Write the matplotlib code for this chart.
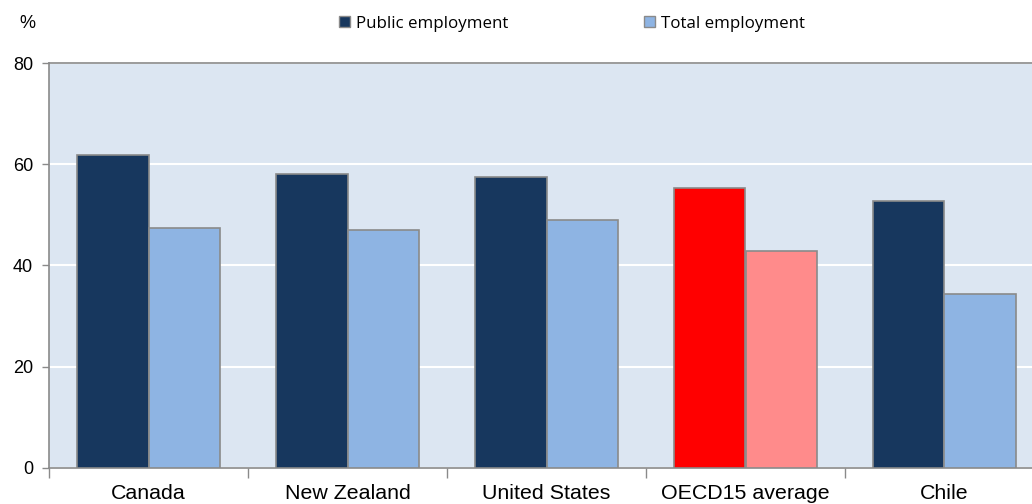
import matplotlib
matplotlib.use("Agg")
import matplotlib.pyplot as plt
import numpy as np
from matplotlib.patches import Patch

countries = ["Canada", "New Zealand", "United States", "OECD15 average", "Chile"]
public_employment = [61.8, 58.0, 57.4, 55.3, 52.7]
total_employment = [47.4, 46.9, 48.9, 42.8, 34.3]
series_names = ["Public employment", "Total employment"]
y_ticks = [0, 20, 40, 60, 80]
highlight = "OECD15 average"

dark_blue = "#17375E"
light_blue = "#8EB4E3"
red = "#FF0000"
pink = "#FF8B8B"
edge = "#8A8A8A"

fig = plt.figure(figsize=(10.32, 5.04), dpi=100)
ax = fig.add_axes([49 / 1032, 36.3 / 504, (1044 - 49) / 1032, (467.7 - 63) / 504])
ax.set_facecolor("#DCE6F2")

x = np.arange(len(countries))
w = 0.36
pub_colors = [red if c == highlight else dark_blue for c in countries]
tot_colors = [pink if c == highlight else light_blue for c in countries]
ax.bar(x - w / 2, public_employment, width=w, color=pub_colors,
       edgecolor=edge, linewidth=1.2, zorder=3)
ax.bar(x + w / 2, total_employment, width=w, color=tot_colors,
       edgecolor=edge, linewidth=1.2, zorder=3)

ax.set_xlim(-0.5, len(countries) - 0.5)
ax.set_ylim(0, 80)
ax.set_yticks(y_ticks)
ax.yaxis.grid(True, color="white", linewidth=1.5, zorder=1)
ax.set_axisbelow(True)

# category boundaries carry the tick marks, centres carry the labels
ax.set_xticks(np.arange(-0.5, len(countries), 1.0))
ax.set_xticklabels([])
ax.set_xticks(x, minor=True)
ax.set_xticklabels(countries, minor=True, fontsize=15.4,
                   family="Liberation Sans", color="#000000")
ax.tick_params(axis="x", which="major", length=7, color="#8A8A8A", width=1)
ax.tick_params(axis="x", which="minor", length=0, pad=12)
ax.tick_params(axis="y", length=5, color="#8A8A8A", width=1, pad=6.5,
               labelsize=13, labelfontfamily="Liberation Sans")

for s in ["left", "bottom", "top"]:
    ax.spines[s].set_color("#8A8A8A")
    ax.spines[s].set_linewidth(1.2)
ax.spines["right"].set_visible(False)

fig.text(19 / 1032, 1 - 23 / 504, "%", fontsize=13, family="Liberation Sans",
         va="center", ha="left")

handles = [Patch(facecolor=dark_blue, edgecolor=edge, linewidth=1.0),
           Patch(facecolor=light_blue, edgecolor=edge, linewidth=1.0)]
fig.legend(handles, series_names, loc="center", ncol=2,
           bbox_to_anchor=(572 / 1032, 1 - 23.5 / 504), frameon=False,
           prop={"family": "Open Sans", "size": 12.2},
           handlelength=0.65, handleheight=0.65, handletextpad=0.35,
           columnspacing=8.0, borderpad=0, borderaxespad=0)

fig.savefig("out.png", dpi=100)
